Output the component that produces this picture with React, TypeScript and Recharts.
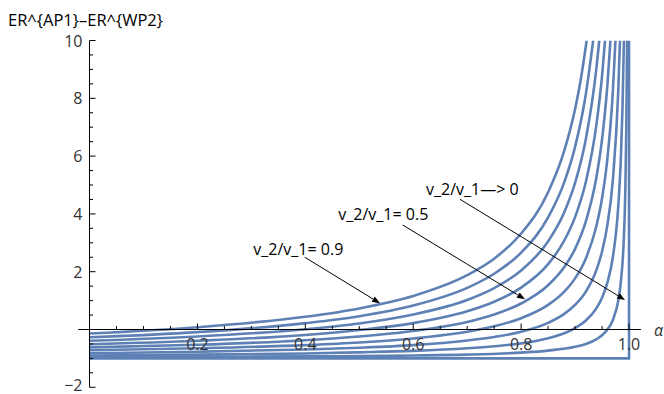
import React from 'react';
import { LineChart, Line, XAxis, YAxis, ReferenceLine, ReferenceDot } from 'recharts';

// v_2/v_1 curves, points are [alpha, ER^{AP1}-ER^{WP2}]
const curve09: [number, number][] = [
  [0, -0.14], [0.2, 0.08], [0.4, 0.44], [0.5, 0.73], [0.6, 1.16], [0.7, 1.88], [0.75, 2.45],
  [0.8, 3.32], [0.85, 4.75], [0.88, 6.19], [0.9, 7.63], [0.91, 8.59], [0.9215, 10],
];
const curve08: [number, number][] = [
  [0, -0.27], [0.2, -0.09], [0.4, 0.22], [0.5, 0.46], [0.6, 0.83], [0.7, 1.44], [0.75, 1.93],
  [0.8, 2.66], [0.85, 3.88], [0.88, 5.1], [0.9, 6.32], [0.92, 8.15], [0.9335, 10],
];
const curve07: [number, number][] = [
  [0, -0.39], [0.2, -0.24], [0.4, 0.01], [0.5, 0.21], [0.6, 0.52], [0.7, 1.02], [0.75, 1.43],
  [0.8, 2.04], [0.85, 3.05], [0.88, 4.06], [0.9, 5.07], [0.92, 6.59], [0.94, 9.12], [0.9448, 10],
];
const curve06: [number, number][] = [
  [0, -0.51], [0.2, -0.39], [0.4, -0.19], [0.5, -0.02], [0.6, 0.22], [0.7, 0.63], [0.75, 0.96],
  [0.8, 1.45], [0.85, 2.26], [0.88, 3.08], [0.9, 3.89], [0.92, 5.11], [0.94, 7.15], [0.95, 8.78],
  [0.9555, 10],
];
const curve05: [number, number][] = [
  [0, -0.62], [0.2, -0.53], [0.4, -0.37], [0.5, -0.24], [0.6, -0.05], [0.7, 0.26], [0.75, 0.52],
  [0.8, 0.9], [0.85, 1.53], [0.88, 2.16], [0.9, 2.79], [0.92, 3.74], [0.94, 5.32], [0.95, 6.58],
  [0.96, 8.48], [0.9655, 10],
];
const curve04: [number, number][] = [
  [0, -0.72], [0.2, -0.65], [0.4, -0.54], [0.5, -0.45], [0.6, -0.31], [0.7, -0.08], [0.75, 0.11],
  [0.8, 0.39], [0.85, 0.85], [0.88, 1.31], [0.9, 1.77], [0.92, 2.46], [0.94, 3.62], [0.95, 4.54],
  [0.96, 5.93], [0.97, 8.23], [0.9748, 10],
];
const curve03: [number, number][] = [
  [0, -0.82], [0.2, -0.77], [0.4, -0.69], [0.5, -0.63], [0.6, -0.54], [0.7, -0.38], [0.75, -0.26],
  [0.8, -0.08], [0.85, 0.23], [0.88, 0.54], [0.9, 0.85], [0.92, 1.31], [0.94, 2.08], [0.95, 2.7],
  [0.96, 3.63], [0.97, 5.17], [0.98, 8.25], [0.9832, 10],
];
const curve02: [number, number][] = [
  [0, -0.9], [0.2, -0.87], [0.4, -0.83], [0.5, -0.79], [0.6, -0.74], [0.7, -0.65], [0.75, -0.58],
  [0.8, -0.48], [0.85, -0.3], [0.88, -0.13], [0.9, 0.05], [0.92, 0.31], [0.94, 0.75], [0.95, 1.1],
  [0.96, 1.63], [0.97, 2.5], [0.98, 4.25], [0.985, 6.0], [0.988, 7.75], [0.9905, 10],
];
const curve01: [number, number][] = [
  [0, -0.96], [0.2, -0.95], [0.4, -0.93], [0.5, -0.92], [0.6, -0.9], [0.7, -0.87], [0.8, -0.8],
  [0.85, -0.73], [0.9, -0.6], [0.92, -0.5], [0.94, -0.33], [0.95, -0.2], [0.96, 0], [0.97, 0.33],
  [0.98, 1.0], [0.985, 1.67], [0.99, 3.0], [0.993, 4.71], [0.995, 7.0], [0.9964, 10],
];
// v_2/v_1 -> 0 limit
const curve00: [number, number][] = [[0, -1], [1, -1], [1, 10]];

const curves = [curve09, curve08, curve07, curve06, curve05, curve04, curve03, curve02, curve01];

const xMinor = [0.05, 0.1, 0.15, 0.25, 0.3, 0.35, 0.45, 0.5, 0.55, 0.65, 0.7, 0.75, 0.85, 0.9, 0.95];
const xMajor = [0.2, 0.4, 0.6, 0.8, 1.0];
const xLabels = ['0.2', '0.4', '0.6', '0.8', '1.0'];
const yMinor = [-1.5, -1, -0.5, 0.5, 1, 1.5, 2.5, 3, 3.5, 4.5, 5, 5.5, 6.5, 7, 7.5, 8.5, 9, 9.5];
const yMajor = [-2, 2, 4, 6, 8, 10];
const yLabels = ['\u22122', '2', '4', '6', '8', '10'];

const notes = [
  { text: 'v_2/v_1= 0.9', at: [0.387, 2.78], from: [0.399, 2.5], to: [0.5385, 0.907] },
  { text: 'v_2/v_1= 0.5', at: [0.5446, 4.0], from: [0.5805, 3.616], to: [0.8072, 1.045] },
  { text: 'v_2/v_1\u2014> 0', at: [0.7096, 4.86], from: [0.6867, 4.505], to: [0.9926, 1.021] },
];

const BLUE = '#5e81b5';
const FONT = '"Open Sans", sans-serif';

const toPts = (c: [number, number][]) => c.map(([a, v]) => ({ a, v }));

const Arrow = (p: any) => {
  const { x1, y1, x2, y2 } = p;
  const ang = Math.atan2(y2 - y1, x2 - x1);
  const L = 8, W = 3;
  const bx = x2 - L * Math.cos(ang), by = y2 - L * Math.sin(ang);
  const px = -Math.sin(ang) * W, py = Math.cos(ang) * W;
  return (
    <g>
      <line x1={x1} y1={y1} x2={bx} y2={by} stroke="#000" strokeWidth={1} />
      <polygon points={`${x2},${y2} ${bx + px},${by + py} ${bx - px},${by - py}`} fill="#000" />
    </g>
  );
};

export default function App() {
  return (
    <div style={{ position: 'absolute', left: 0, top: 0, width: 664, height: 394, background: '#fff' }}>
      <div style={{ position: 'absolute', left: 8, top: 8, fontFamily: FONT, fontSize: 16.5, lineHeight: '24px', color: '#000', whiteSpace: 'nowrap' }}>
        ER^{'{'}AP1{'}'}–ER^{'{'}WP2{'}'}
      </div>
      <div style={{ position: 'absolute', left: 654, top: 319, fontFamily: FONT, fontSize: 16, fontStyle: 'italic', color: '#333' }}>
        α
      </div>
      <LineChart width={664} height={394} margin={{ top: 40.5, right: 23.1, bottom: 6.7, left: 78.2 }}>
        <XAxis type="number" dataKey="a" domain={[-0.021, 1.022]} hide allowDataOverflow />
        <YAxis type="number" dataKey="v" domain={[-2, 10]} hide allowDataOverflow />
        {curves.map((c, i) => (
          <Line key={i} data={toPts(c)} dataKey="v" type="monotone" stroke={BLUE} strokeWidth={2.6}
            dot={false} isAnimationActive={false} />
        ))}
        <Line data={toPts(curve00)} dataKey="v" type="linear" stroke={BLUE} strokeWidth={2.6}
          dot={false} isAnimationActive={false} />
        <ReferenceLine segment={[{ x: -0.021, y: 0 }, { x: 1.022, y: 0 }]} stroke="#000" strokeWidth={1} />
        <ReferenceLine segment={[{ x: 0, y: -2 }, { x: 0, y: 10 }]} stroke="#000" strokeWidth={1} />
        {xMinor.map((a) => (
          <ReferenceDot key={'xm' + a} x={a} y={0} r={0}
            shape={(p: any) => <line x1={p.cx} y1={p.cy} x2={p.cx} y2={p.cy - 3.5} stroke="#000" strokeWidth={1} />} />
        ))}
        {xMajor.map((a, i) => (
          <ReferenceDot key={'xM' + a} x={a} y={0} r={0}
            shape={(p: any) => (
              <g>
                <line x1={p.cx} y1={p.cy} x2={p.cx} y2={p.cy - 6} stroke="#000" strokeWidth={1} />
                <text x={p.cx} y={p.cy + 14} textAnchor="middle" dominantBaseline="central"
                  fontFamily={FONT} fontSize={16} fill="#333">{xLabels[i]}</text>
              </g>
            )} />
        ))}
        {yMinor.map((v) => (
          <ReferenceDot key={'ym' + v} x={0} y={v} r={0}
            shape={(p: any) => <line x1={p.cx} y1={p.cy} x2={p.cx + 3.5} y2={p.cy} stroke="#000" strokeWidth={1} />} />
        ))}
        {yMajor.map((v, i) => (
          <ReferenceDot key={'yM' + v} x={0} y={v} r={0}
            shape={(p: any) => (
              <g>
                <line x1={p.cx} y1={p.cy} x2={p.cx + 6} y2={p.cy} stroke="#000" strokeWidth={1} />
                <text x={p.cx - 7} y={v < 0 ? p.cy - 2 : p.cy} textAnchor="end" dominantBaseline="central"
                  fontFamily={FONT} fontSize={16} fill="#333">{yLabels[i]}</text>
              </g>
            )} />
        ))}
        {notes.map((n) => (
          <ReferenceLine key={'ar' + n.text} segment={[{ x: n.from[0], y: n.from[1] }, { x: n.to[0], y: n.to[1] }]}
            shape={Arrow} />
        ))}
        {notes.map((n) => (
          <ReferenceDot key={'tx' + n.text} x={n.at[0]} y={n.at[1]} r={0}
            shape={(p: any) => (
              <text x={p.cx} y={p.cy} textAnchor="middle" dominantBaseline="central"
                fontFamily={FONT} fontSize={16} fill="#000">{n.text}</text>
            )} />
        ))}
      </LineChart>
    </div>
  );
}
